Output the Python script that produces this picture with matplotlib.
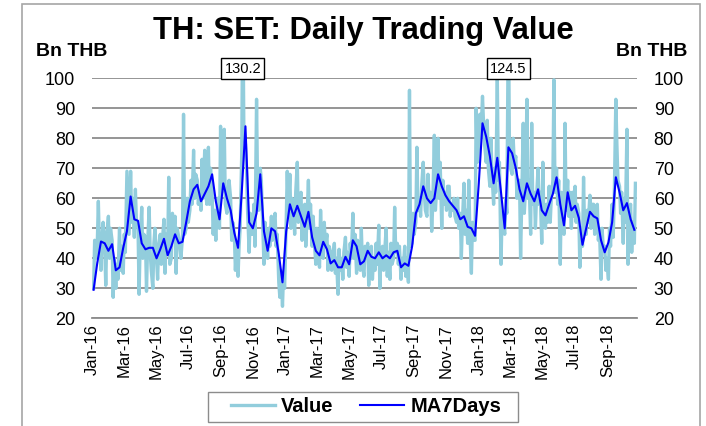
import numpy as np
import pandas as pd
import matplotlib
matplotlib.use('Agg')
import matplotlib.pyplot as plt
import matplotlib.dates as mdates
from matplotlib.patches import Rectangle

plt.rcParams['font.family'] = ['Liberation Sans', 'DejaVu Sans']

# ===== data (Bn THB)
week_start = '2016-01-04'   # first Monday, one MA reading per week

# MA7Days, value on each Monday
ma7 = [29.5, 38.5, 45.6, 45, 42.5, 44.7, 36, 37, 43.5, 49,
       60.6, 53, 52.5, 45, 43, 43.5, 43.5, 40, 43, 46.5,
       41, 44, 48, 45, 45.5, 52, 59, 63, 64.5, 59,
       61.5, 64, 68, 59, 53, 65, 60, 56, 48.5, 43.5,
       62, 84, 52, 50, 55, 68, 49, 42.5, 50, 49,
       41.5, 32, 49, 58, 54, 57.5, 54, 50.5, 55.5, 47,
       42.5, 41, 45.5, 43, 38.3, 39.4, 37, 37, 40.5, 38,
       46, 44, 38, 39, 42.5, 40.5, 40, 42, 40, 41,
       40, 42, 42.5, 37, 38.3, 37.5, 44, 55, 58, 64,
       60, 58.4, 60, 68, 64, 61, 59, 57.5, 56, 53,
       54, 50.5, 50, 47.5, 65, 85, 80.5, 74, 65, 73.5,
       62, 50, 77, 75, 70, 63, 59, 65, 61.5, 59,
       63, 56, 54.3, 58, 61.5, 67, 58, 51, 62, 56,
       57.5, 53.5, 44.5, 50, 55.5, 54, 53.3, 46, 42, 45.3,
       52, 67, 62, 56, 58.4, 53, 49.5]

# daily trading value, three readings per week (Mon, Wed, Fri)
value = [30, 46, 40,  45, 59, 44,  36, 47, 52,  44, 31, 48,  54, 40, 50,
         46, 27, 40,  30, 38, 33,  50, 36, 44,  35, 48, 42,  69, 58, 48,
         69, 52, 60,  47, 63, 52,  50, 28, 45,  57, 40, 48,  47, 29, 44,
         57, 42, 36,  30, 45, 50,  40, 33, 44,  48, 38, 46,  53, 35, 48,
         42, 67, 38,  40, 55, 48,  54, 35, 50,  47, 44, 40,  47, 88, 48,
         50, 60, 52,  56, 66, 58,  76, 60, 68,  66, 58, 62,  56, 73, 60,
         76, 62, 58,  77, 58, 70,  62, 48, 56,  46, 55, 60,  50, 84, 62,
         73, 83, 58,  55, 62, 66,  60, 46, 52,  48, 36, 44,  34, 44, 50,
         75, 130.2, 82,  78, 70, 56,  42, 55, 48,  48, 58, 44,  93, 62, 56,
         70, 66, 55,  38, 52, 46,  40, 50, 44,  54, 46, 52,  55, 44, 48,
         32, 27, 36,  24, 35, 30,  52, 69, 55,  68, 50, 60,  56, 48, 62,
         72, 52, 58,  62, 46, 54,  58, 44, 52,  66, 50, 58,  44, 54, 46,
         38, 50, 42,  37, 56, 44,  40, 52, 44,  48, 36, 44,  42, 36, 40,
         45, 35, 40,  28, 43, 36,  40, 33, 42,  47, 37, 42,  34, 45, 40,
         55, 40, 48,  35, 46, 40,  36, 50, 38,  34, 44, 40,  45, 31, 42,
         44, 33, 40,  36, 45, 38,  51, 30, 42,  44, 36, 42,  50, 34, 42,
         33, 45, 38,  40, 57, 42,  45, 38, 44,  33, 40, 36,  44, 34, 40,
         32, 96, 44,  45, 55, 48,  52, 77, 56,  60, 54, 64,  72, 62, 56,
         54, 68, 60,  62, 49, 58,  81, 56, 62,  80, 60, 72,  50, 66, 58,
         62, 56, 64,  64, 54, 58,  56, 60, 54,  52, 60, 50,  55, 40, 52,
         65, 48, 56,  45, 66, 50,  35, 52, 46,  46, 90, 72,  78, 88, 80,
         94, 85, 78,  72, 86, 70,  64, 80, 68,  58, 70, 62,  99.5, 66, 72,
         38, 55, 52,  48, 60, 55,  124.5, 75, 70,  68, 80, 72,  74, 60, 66,
         66, 40, 58,  85, 55, 62,  93, 60, 66,  48, 85, 58,  62, 50, 60,
         70, 58, 62,  45, 72, 52,  50, 58, 52,  64, 52, 60,  66, 99.5, 62,
         70, 58, 66,  38, 62, 54,  48, 85, 56,  66, 54, 62,  50, 62, 54,
         64, 52, 58,  55, 37, 50,  44, 67, 48,  48, 56, 52,  61, 50, 58,
         58, 48, 56,  58, 46, 50,  33, 50, 44,  44, 36, 40,  33, 50, 44,
         58, 47, 60,  93, 78, 66,  64, 55, 62,  45, 60, 52,  83, 38, 56,
         58, 42, 52,  45, 65]

series_names = ['Value', 'MA7Days']
y_ticks = list(range(20, 101, 10))
x_start, x_end = '2016-01-01', '2018-10-27'

mondays = pd.date_range(week_start, periods=len(ma7), freq='7D')
value_dates = pd.DatetimeIndex(sorted(list(mondays) + list(mondays + pd.Timedelta(days=2))
                                      + list(mondays + pd.Timedelta(days=4))))[:len(value)]

# ===== figure
fig = plt.figure(figsize=(7.06, 4.26), dpi=100)
fig.patches.append(Rectangle((22 / 706, -0.01), (700 - 22) / 706, 1.0006,
                             transform=fig.transFigure, fill=False,
                             edgecolor='#a6a6a6', lw=1.2))

ax = fig.add_axes([92 / 706, 1 - 318.3 / 426, (637 - 92) / 706, 240 / 426])
l1, = ax.plot(value_dates, value, color='#92cddc', lw=2.4, label=series_names[0])
l2, = ax.plot(mondays, ma7, color='#0000ff', lw=1.5, label=series_names[1])

ax.set_ylim(20, 100)
ax.set_yticks(y_ticks)
ax.set_xlim(pd.Timestamp(x_start), pd.Timestamp(x_end))
ax.xaxis.set_major_locator(mdates.MonthLocator(bymonth=[1, 3, 5, 7, 9, 11]))
ax.xaxis.set_major_formatter(mdates.DateFormatter('%b-%y'))
ax.yaxis.grid(True, color='#8c8c8c', lw=1.3)
ax.set_axisbelow(True)
for s in ['top', 'left', 'right']:
    ax.spines[s].set_visible(False)
ax.spines['bottom'].set_color('#8c8c8c')
ax.spines['bottom'].set_linewidth(1.3)
ax.tick_params(axis='y', length=0, pad=12, labelsize=13, labelright=True)
ax.tick_params(axis='x', length=0, pad=4, labelsize=12, labelrotation=90)

# labels for the peaks clipped at 100
for d, v in zip(value_dates, value):
    if v > 100:
        ax.annotate('%.1f' % v, xy=(d, 1.04), xycoords=('data', 'axes fraction'),
                    ha='center', va='center', fontsize=10.5,
                    bbox=dict(boxstyle='square,pad=0.22', fc='white', ec='black', lw=1))

fig.text(363 / 706, 1 - 31 / 426, 'TH: SET: Daily Trading Value', ha='center', va='center',
         fontsize=22.3, fontweight='bold')
fig.text(72 / 706, 1 - 52 / 426, 'Bn THB', ha='center', va='center', fontsize=14, fontweight='bold')
fig.text(652 / 706, 1 - 52 / 426, 'Bn THB', ha='center', va='center', fontsize=14, fontweight='bold')

# legend with a drawn frame (Excel style padding)
fig.patches.append(Rectangle((208 / 706, 1 - 422 / 426), 310 / 706, 30 / 426,
                             transform=fig.transFigure, fill=True, facecolor='white',
                             edgecolor='#8c8c8c', lw=1.0))
leg = fig.legend([l1, l2], series_names, loc='center', bbox_to_anchor=(366 / 706, 1 - 407 / 426),
                 ncol=2, frameon=False, prop={'weight': 'bold', 'size': 14.5},
                 handlelength=2.2, handletextpad=0.3, columnspacing=1.3, borderpad=0.2)

fig.savefig('out.png', dpi=100)
